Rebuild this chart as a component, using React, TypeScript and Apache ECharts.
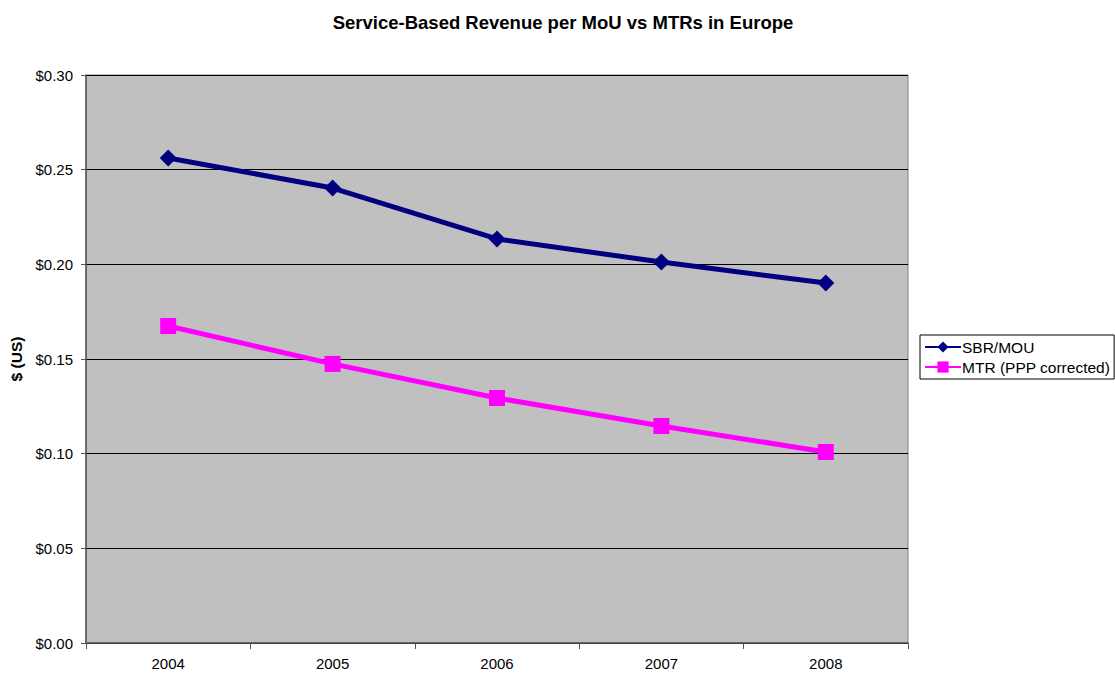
import React, { useEffect, useRef } from "react";
import * as echarts from "echarts";

const years = ["2004", "2005", "2006", "2007", "2008"];
const sbrMou = [0.2562, 0.2403, 0.2134, 0.2012, 0.1901];
const mtrPpp = [0.1674, 0.1474, 0.1294, 0.1146, 0.1009];
const seriesNames = ["SBR/MOU", "MTR (PPP corrected)"];

export default function App() {
  const ref = useRef<HTMLDivElement>(null);
  useEffect(() => {
    if (!ref.current) return;
    const chart = echarts.init(ref.current, null, { renderer: "svg" });
    const font = "Arial, 'Liberation Sans', sans-serif";
    chart.setOption({
      animation: false,
      backgroundColor: "#ffffff",
      textStyle: { fontFamily: font },
      title: {
        text: "Service-Based Revenue per MoU vs MTRs in Europe",
        left: 558,
        textAlign: "center",
        top: 8,
        textStyle: { fontSize: 18.5, fontWeight: "bold", color: "#000", fontFamily: font },
      },
      grid: {
        left: 86,
        top: 75,
        right: 207,
        bottom: 34,
        show: true,
        backgroundColor: "#c0c0c0",
        borderColor: "#808080",
        borderWidth: 1,
      },
      legend: {
        orient: "vertical",
        left: 920,
        top: 335,
        data: seriesNames,
        backgroundColor: "#ffffff",
        borderColor: "#000",
        borderWidth: 1,
        padding: [4, 4, 4, 4],
        itemGap: 4,
        itemWidth: 36,
        itemHeight: 14,
        textStyle: {
          fontSize: 15.5,
          lineHeight: 16,
          color: "#000",
          fontFamily: font,
          padding: [0, 0, 0, -4],
        },
      },
      xAxis: {
        type: "category",
        data: years,
        boundaryGap: true,
        axisLine: { lineStyle: { color: "#555", width: 1.5 } },
        axisTick: { show: true, length: 6, lineStyle: { color: "#555" } },
        axisLabel: { fontSize: 15, color: "#000", margin: 13, fontFamily: font },
      },
      yAxis: {
        type: "value",
        min: 0,
        max: 0.3,
        interval: 0.05,
        name: "$ (US)",
        nameLocation: "middle",
        nameGap: 61,
        nameRotate: 90,
        nameTextStyle: { fontSize: 15.5, fontWeight: "bold", color: "#000", fontFamily: font },
        axisLine: { show: true, lineStyle: { color: "#555", width: 1.5 } },
        axisTick: { show: true, length: 5, lineStyle: { color: "#555" } },
        axisLabel: {
          fontSize: 15,
          color: "#000",
          margin: 13,
          fontFamily: font,
          formatter: (v: number) => "$" + v.toFixed(2),
        },
        splitLine: { show: true, lineStyle: { color: "#000", width: 1 } },
      },
      series: [
        {
          name: seriesNames[0],
          type: "line",
          data: sbrMou,
          symbol: "diamond",
          symbolSize: 17,
          color: "#000080",
          lineStyle: { color: "#000080", width: 5 },
          itemStyle: { color: "#000080" },
        },
        {
          name: seriesNames[1],
          type: "line",
          data: mtrPpp,
          symbol: "rect",
          symbolSize: 16,
          color: "#ff00ff",
          lineStyle: { color: "#ff00ff", width: 5 },
          itemStyle: { color: "#ff00ff" },
        },
      ],
    });
    return () => chart.dispose();
  }, []);
  return (
    <div
      ref={ref}
      style={{ position: "absolute", left: 0, top: 0, width: 1115, height: 677 }}
    />
  );
}
